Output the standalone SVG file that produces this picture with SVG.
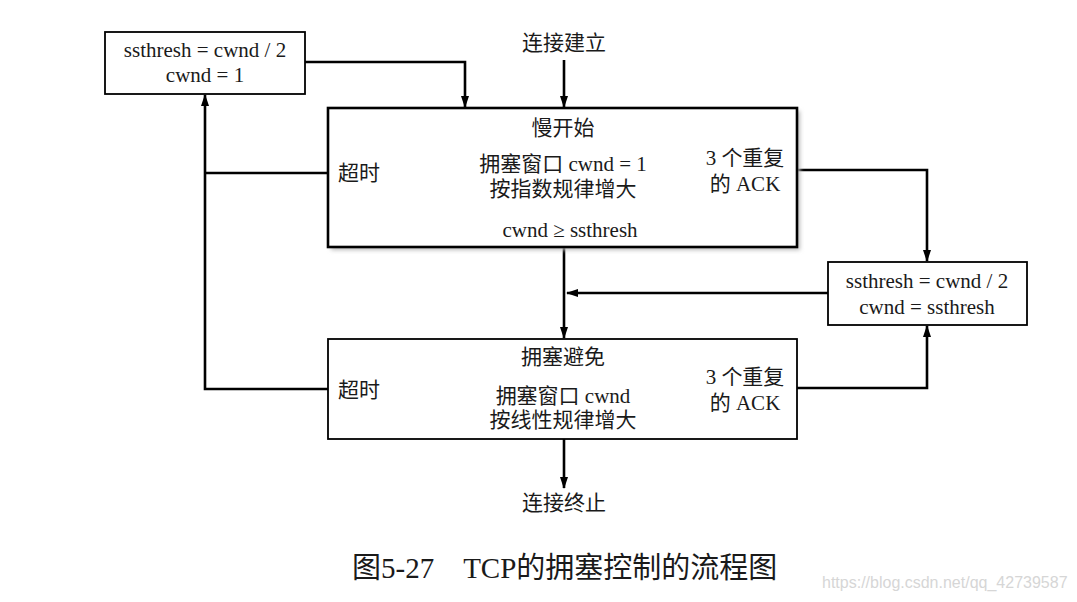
<svg xmlns="http://www.w3.org/2000/svg" width="1077" height="602" viewBox="0 0 1077 602">
<defs>
<marker id="ah" markerWidth="12" markerHeight="8" refX="11" refY="4" orient="auto" markerUnits="userSpaceOnUse">
<path d="M0,0 L12,4 L0,8 Z" fill="#000"/>
</marker>
<filter id="sh" x="-5%" y="-5%" width="110%" height="115%">
<feGaussianBlur stdDeviation="2"/>
</filter>
</defs>
<style>
text{font-family:"Liberation Serif","Noto Sans CJK SC",serif;font-size:21px;fill:#1a1a1a}
.c{text-anchor:middle}
.box{fill:#fff;stroke:#000;stroke-width:1.8}
.bold{fill:#fff;stroke:#000;stroke-width:2.6}
.ln{fill:none;stroke:#000;stroke-width:2.6}
.cap{font-size:29px}
.wm{font-family:"Liberation Sans",sans-serif;font-size:16px;fill:#d6d6d6}
</style>
<rect width="1077" height="602" fill="#fff"/>
<g id="connectors">
<path class="ln" d="M305,62 H465 V107" marker-end="url(#ah)"/>
<path class="ln" d="M564,60 V107" marker-end="url(#ah)"/>
<path class="ln" d="M564,247 V338" marker-end="url(#ah)"/>
<path class="ln" d="M828,293 H567" marker-end="url(#ah)"/>
<path class="ln" d="M328,173 H205"/>
<path class="ln" d="M328,389 H205 V95" marker-end="url(#ah)"/>
<path class="ln" d="M797,170 H927 V261" marker-end="url(#ah)"/>
<path class="ln" d="M797,388 H927 V326" marker-end="url(#ah)"/>
<path class="ln" d="M564,439 V488" marker-end="url(#ah)"/>
</g>
<g id="start-label"><text class="c" x="564" y="50">连接建立</text></g>
<g id="reset-box">
<rect class="box" x="105" y="32" width="200" height="62"/>
<text class="c" x="205" y="57">ssthresh = cwnd / 2</text>
<text class="c" x="205" y="82">cwnd = 1</text>
</g>
<g id="slow-start">
<rect x="331" y="111" width="469" height="139" fill="#bbb" filter="url(#sh)"/>
<rect class="bold" x="328" y="108" width="469" height="139"/>
<text class="c" x="563" y="135">慢开始</text>
<text x="338" y="180">超时</text>
<text class="c" x="563" y="171">拥塞窗口 cwnd = 1</text>
<text class="c" x="563" y="196">按指数规律增大</text>
<text class="c" x="570" y="237">cwnd ≥ ssthresh</text>
<text class="c" x="745" y="165">3 个重复</text>
<text class="c" x="745" y="191">的 ACK</text>
</g>
<g id="fast-box">
<rect class="box" x="828" y="262" width="199" height="63"/>
<text class="c" x="927" y="288">ssthresh = cwnd / 2</text>
<text class="c" x="927" y="314">cwnd = ssthresh</text>
</g>
<g id="congestion-avoidance">
<rect class="box" x="328" y="339" width="469" height="100"/>
<text class="c" x="563" y="364">拥塞避免</text>
<text x="338" y="397">超时</text>
<text class="c" x="563" y="403">拥塞窗口 cwnd</text>
<text class="c" x="563" y="427">按线性规律增大</text>
<text class="c" x="745" y="384">3 个重复</text>
<text class="c" x="745" y="410">的 ACK</text>
</g>
<g id="end-label"><text class="c" x="564" y="510">连接终止</text></g>
<g id="caption">
<text class="cap" x="352" y="578">图5-27　TCP的拥塞控制的流程图</text>
<text class="wm" x="822" y="588">https://blog.csdn.net/qq_42739587</text>
</g>
</svg>
